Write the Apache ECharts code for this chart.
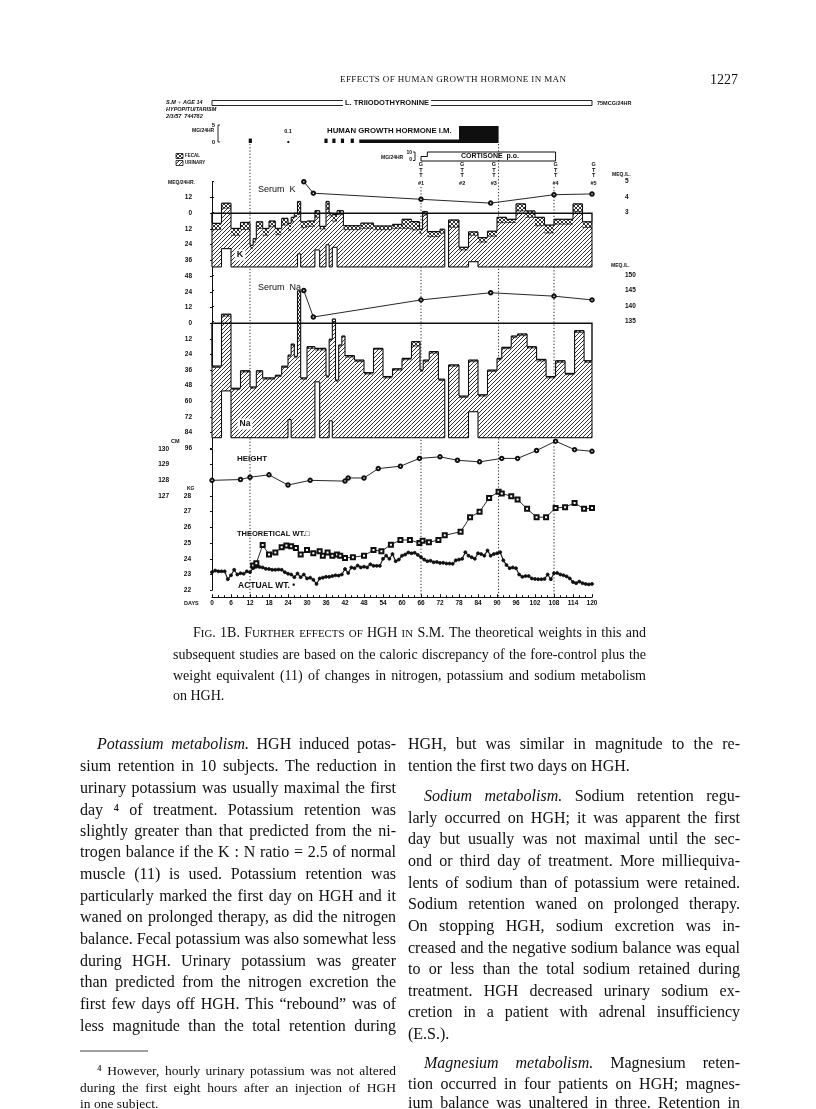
<!DOCTYPE html>
<html lang="en">
<head>
<meta charset="UTF-8">
<script src="https://cdn.jsdelivr.net/npm/echarts@6.0.0/dist/echarts.min.js"></script>
<title>Effects of human growth hormone in man - Fig. 1B</title>
<style>
  html, body { margin: 0; padding: 0; background: #fff; }
  #main { width: 816px; height: 1109px; }
</style>
</head>
<body>
<div id="main"></div>
<script type="text/javascript">
// ---- balance periods, potassium (MEQ/24HR): intake line, top of urinary, top of fecal
var kFrom   = [0,3,6,9,12,13,14,16,18,20,22,24,25,26,27,28,30,32.5,34,36,37,38,39.5,41.5,47,51,57,60,63,65.5,66.5,68,72,74.7,78,81,84,87,90,93,96,99,102,105,108,111,114,117];
var kTo     = [3,6,9,12,13,14,16,18,20,22,24,25,26,27,28,30,32.5,34,36,37,38,39.5,41.5,47,51,57,60,63,65.5,66.5,68,72,73.5,78,81,84,87,90,93,96,99,102,105,108,111,114,117,120];
var kIntake = [-41,-27,-41,-41,-41,-41,-41,-41,-41,-41,-41,-41,-41,-41,-31,-41,-41,-28,-41,-24,-41,-26,-41,-41,-41,-41,-41,-41,-41,-41,-41,-41,-41,-41,-41,-37,-41,-41,-41,-41,-41,-41,-41,-41,-41,-41,-41,-41];
var kUrine  = [-12.4,3.9,-16.8,-12.4,-26.6,-22,-11.6,-16.8,-10.3,-16.3,-9,-12.9,-6.5,-2.6,-1,-11,-10,-3,-12,3,-2,-6,-1,-12.5,-11.5,-12.5,-11.5,-11.5,-12.7,-15.3,-1.3,-17.8,-15.3,-10.7,-28,-16.8,-22,-17.5,-7.2,-7,1.8,-3.1,-9.5,-15,-8.3,-8.3,1.3,-10.8];
var kFecal  = [-7.7,7.7,-11.6,-7,-24.5,-19.4,-6.5,-11.6,-5.9,-11.6,-3.9,-7.7,-3.1,0,9,-6.5,-5.9,2,-10,9,0,-1,2,-9.5,-7.5,-9.7,-8.5,-4.6,-6.4,-12.2,1.3,-14,-12.2,-5.1,-26,-14.2,-18.6,-13.7,-3.1,-4.6,7.2,1.8,-3.1,-9,-4.6,-4.6,7.2,-6.5];

// ---- balance periods, sodium
var naFrom   = [0,3,6,9,12,14,16,20,22,24,25,26,27,28,30,32.5,34,36,37,38,39,40,41,42,45,48,51,54,57,60,63,65.7,66.7,68.6,71.5,74.7,78,81,84,87,90,91.5,94.5,96.5,99.5,102.5,105.5,108.5,111.5,114.5,117.5];
var naTo     = [3,6,9,12,14,16,20,22,24,25,26,27,28,30,32.5,34,36,37,38,39,40,41,42,45,48,51,54,57,60,63,65.7,66.7,68.6,71.5,73.5,78,81,84,87,90,91.5,94.5,96.5,99.5,102.5,105.5,108.5,111.5,114.5,117.5,120];
var naIntake = [-88,-52,-88,-88,-88,-88,-88,-88,-88,-74,-88,-88,-88,-88,-88,-45,-88,-88,-75,-88,-88,-88,-88,-88,-88,-88,-88,-88,-88,-88,-88,-88,-88,-88,-88,-88,-88,-68,-88,-88,-88,-88,-88,-88,-88,-88,-88,-88,-88,-88,-88];
var naUrine  = [-34,5.5,-51,-37.5,-50,-37.5,-43,-41,-34,-25.5,-17,-26.5,-12,-43,-19.3,-20.5,-20.5,-41.5,-13,1,-44.5,-17.5,-10.5,-26,-29.5,-39,-20,-42,-36,-28,-17.5,-37,-29.5,-23,-44,-33,-57,-29.5,-56,-37,-28,-19.5,-11,-9.5,-19,-29,-42,-30,-39.5,-7,-30];
var naFecal  = [-32.9,7,-50,-36.5,-49,-36.5,-42,-40,-33,-24.5,-16,-25.5,25,-42,-18,-19.3,-19.3,-40.6,-12.3,3.3,-43.7,-16.7,-9.8,-24.9,-28.3,-38,-19.3,-41,-35,-27,-14.1,-36,-28.3,-21.8,-43,-32,-56,-28.3,-55,-36,-27,-18.5,-9.8,-8.2,-18,-27.8,-41,-28.8,-38.6,-5.7,-28.8];

// ---- serum values (MEQ/L)
var serumDays = [29, 32, 66, 88, 108, 120];
var serumK    = [5.0, 4.25, 3.85, 3.6, 4.15, 4.2];
var serumNa   = [145, 136.5, 142, 144.3, 143.2, 142];

// ---- height (CM)
var heightDays = [0,9,12,18,24,31,42,43,48,52.5,59.5,65.5,72,77.5,84.5,91.5,96.5,102.5,108.5,114.5,120];
var heightCm   = [128.0,128.05,128.2,128.35,127.7,128.0,127.95,128.15,128.15,128.75,128.9,129.4,129.5,129.28,129.18,129.4,129.4,129.9,130.5,129.96,129.85];

// ---- theoretical weight (KG)
var theoDays = [13,14,16,18,20,22,23.5,25,26.5,28,30,32,34,35,36.5,38,39.5,40.5,42,44.5,48,51,53.5,56.5,59.5,62.5,65.5,66.5,68.5,71.5,73.5,78.5,81.5,84.5,87.5,90.5,91.5,94.5,96.5,99.5,102.5,105.5,108.5,111.5,114.5,117.5,120];
var theoKg   = [23.57,23.72,24.88,24.27,24.4,24.73,24.84,24.8,24.69,24.27,24.56,24.35,24.48,24.2,24.4,24.2,24.27,24.2,24.05,24.1,24.2,24.56,24.48,24.9,25.2,25.2,25.0,25.15,25.05,25.2,25.5,25.72,26.65,26.99,27.88,28.27,28.16,27.99,27.78,27.18,26.65,26.65,27.24,27.29,27.56,27.18,27.24];

// ---- actual weight (KG), one value a day from day 0 to 120
var actualKg = [23.15,23.25,23.2,23.2,23.2,22.7,22.95,23.3,23.0,23.08,
  23.05,23.2,23.15,23.4,23.5,23.48,23.45,23.36,23.35,23.3,
  23.3,23.32,23.3,23.15,23.05,23.0,22.83,23.06,22.83,23.0,
  22.75,22.8,22.66,22.4,22.75,22.8,22.85,22.85,22.9,22.95,
  22.93,23.0,23.35,23.1,23.45,23.4,23.57,23.45,23.5,23.45,
  23.65,23.55,23.55,23.55,24.0,24.2,24.0,24.3,23.85,23.95,
  24.2,24.27,24.4,24.35,24.38,24.25,24.1,23.95,23.85,23.88,
  23.78,23.8,23.74,23.75,23.7,23.7,23.68,23.9,23.95,24.0,
  24.42,24.2,24.1,24.0,24.35,24.3,24.2,24.53,24.2,24.3,
  24.35,24.42,23.9,23.6,23.4,23.45,23.4,23.0,22.85,22.9,
  22.9,22.75,22.72,22.7,22.7,22.72,23.0,22.7,23.08,23.1,
  23.0,22.95,22.88,22.75,22.52,22.45,22.55,22.45,22.4,22.37,
  22.4];

// ---- treatments
var hghFrom = [11.6, 23.8, 35.5, 38, 40.7, 43.8, 46.5, 78];
var hghTo   = [12.6, 24.4, 36.5, 39, 41.7, 44.8, 78, 90.5];
var hghDose = [1.3, 0.6, 1.3, 1.3, 1.3, 1.3, 1.0, 5];      // MG/24HR
var cortDays = [66, 68, 108.5];
var cortDose = [5, 10];                                    // MG/24HR
var gttDays  = [66, 79, 89, 108.5, 120.5];
var gttNames = ['#1', '#2', '#3', '#4', '#5'];
var markDays = [12, 66, 90.5, 108];                        // dotted guide lines
var markTop  = [44, 87, 44, 87];

var dayTicks = [0, 6, 12, 18, 24, 30, 36, 42, 48, 54, 60, 66, 72, 78, 84, 90, 96, 102, 108, 114, 120];

// ---- page text
var titleText = 'EFFECTS OF HUMAN GROWTH HORMONE IN MAN';
var pageNo = '1227';
var caption = [
  ['^Fig.^ 1B. ^Further effects of^ HGH ^in^ S.M. The theoretical weights in this and', 193, 633, true],
  ['subsequent studies are based on the caloric discrepancy of the fore-control plus the', 173, 655, true],
  ['weight equivalent (11) of changes in nitrogen, potassium and sodium metabolism', 173, 676, true],
  ['on HGH.', 173, 696, false]
];
var leftCol = [
  ['*Potassium metabolism.* HGH induced potas-', 97, 745, true],
  ['sium retention in 10 subjects. The reduction in', 80, 767, true],
  ['urinary potassium was usually maximal the first', 80, 789, true],
  ['day \u2074 of treatment. Potassium retention was', 80, 811, true],
  ['slightly greater than that predicted from the ni-', 80, 832, true],
  ['trogen balance if the K : N ratio = 2.5 of normal', 80, 853, true],
  ['muscle (11) is used. Potassium retention was', 80, 875, true],
  ['particularly marked the first day on HGH and it', 80, 897, true],
  ['waned on prolonged therapy, as did the nitrogen', 80, 918, true],
  ['balance. Fecal potassium was also somewhat less', 80, 940, true],
  ['during HGH. Urinary potassium was greater', 80, 962, true],
  ['than predicted from the nitrogen excretion the', 80, 983, true],
  ['first few days off HGH. This \u201crebound\u201d was of', 80, 1005, true],
  ['less magnitude than the total retention during', 80, 1027, true]
];
var footnote = [
  ['\u2074 However, hourly urinary potassium was not altered', 97, 1071, true],
  ['during the first eight hours after an injection of HGH', 80, 1088, true],
  ['in one subject.', 80, 1104, false]
];
var rightCol = [
  ['HGH, but was similar in magnitude to the re-', 408, 745, true],
  ['tention the first two days on HGH.', 408, 767, false],
  ['*Sodium metabolism.* Sodium retention regu-', 424, 797, true],
  ['larly occurred on HGH; it was apparent the first', 408, 819, true],
  ['day but usually was not maximal until the sec-', 408, 840, true],
  ['ond or third day of treatment. More milliequiva-', 408, 862, true],
  ['lents of sodium than of potassium were retained.', 408, 884, true],
  ['Sodium retention waned on prolonged therapy.', 408, 905, true],
  ['On stopping HGH, sodium excretion was in-', 408, 927, true],
  ['creased and the negative sodium balance was equal', 408, 949, true],
  ['to or less than the total sodium retained during', 408, 970, true],
  ['treatment. HGH decreased urinary sodium ex-', 408, 992, true],
  ['cretion in a patient with adrenal insufficiency', 408, 1013, true],
  ['(E.S.).', 408, 1035, false],
  ['*Magnesium metabolism.* Magnesium reten-', 424, 1064, true],
  ['tion occurred in four patients on HGH; magnes-', 408, 1085, true],
  ['ium balance was unaltered in three. Retention in', 408, 1104, true]
];

var SERIF = '"Liberation Serif", "Times New Roman", serif';
var SANS = '"Liberation Sans", Arial, sans-serif';
var INK = '#0f0f0f';

var chart = echarts.init(document.getElementById('main'), null, { renderer: 'canvas' });

// hatch fills for the balance bars
function hatch(size, dirs, lw) {
  var c = document.createElement('canvas');
  c.width = c.height = size;
  var g = c.getContext('2d');
  g.fillStyle = '#fff';
  g.fillRect(0, 0, size, size);
  g.strokeStyle = '#1a1a1a';
  g.lineWidth = lw;
  function seg(a, b, d, e) { g.beginPath(); g.moveTo(a, b); g.lineTo(d, e); g.stroke(); }
  if (dirs.indexOf('/') >= 0) { seg(0, size, size, 0); seg(-1, 1, 1, -1); seg(size - 1, size + 1, size + 1, size - 1); }
  if (dirs.indexOf('\\') >= 0) { seg(0, 0, size, size); seg(size - 1, -1, size + 1, 1); seg(-1, size - 1, 1, size + 1); }
  return { image: c, repeat: 'repeat' };
}
var urinaryFill = hatch(4, '/', 0.9);
var fecalFill = hatch(4, '/\\', 0.9);

function rowsOf(from, to, intake, urine, fecal) {
  return from.map(function (f, i) { return [f, to[i], intake[i], urine[i], fecal[i]]; });
}
var kRows = rowsOf(kFrom, kTo, kIntake, kUrine, kFecal);
var naRows = rowsOf(naFrom, naTo, naIntake, naUrine, naFecal);

function seg(x1, y1, x2, y2, w) {
  return { type: 'line', shape: { x1: x1, y1: y1, x2: x2, y2: y2 }, style: { stroke: INK, lineWidth: w } };
}

// intake drawn downward from zero, output stacked upward from intake
function balanceItem(rows) {
  return function (params, api) {
    var i = params.dataIndex, r = rows[i];
    var a = api.coord([r[0], r[2]]);
    var b = api.coord([r[1], r[3]]);
    var c = api.coord([r[1], r[4]]);
    var x0 = a[0], x1 = b[0], yIn = a[1], yU = b[1], yF = c[1];
    var kids = [
      { type: 'rect', shape: { x: x0, y: yU, width: x1 - x0, height: yIn - yU }, style: { fill: urinaryFill } },
      { type: 'rect', shape: { x: x0, y: yF, width: x1 - x0, height: Math.max(0, yU - yF) }, style: { fill: fecalFill } },
      seg(x0, yF, x1, yF, 1.3), seg(x0, yU, x1, yU, 0.7), seg(x0, yIn, x1, yIn, 1.1)
    ];
    var prev = rows[i - 1], next = rows[i + 1];
    if (prev && prev[1] === r[0]) {
      var p = api.coord([prev[1], prev[4]]), pin = api.coord([prev[1], prev[2]]);
      kids.push(seg(x0, p[1], x0, yF, 1.1));
      if (prev[2] !== r[2]) kids.push(seg(x0, pin[1], x0, yIn, 1.1));
    } else {
      kids.push(seg(x0, yF, x0, yIn, 1.1));
    }
    if (!(next && next[0] === r[1])) kids.push(seg(x1, yF, x1, yIn, 1.1));
    return { type: 'group', children: kids };
  };
}

function zeroFrame(rows) {
  return function (params, api) {
    var first = rows[0], last = rows[rows.length - 1];
    var pts = [api.coord([first[0], first[4]]), api.coord([first[0], 0]),
               api.coord([last[1], 0]), api.coord([last[1], last[4]])];
    return { type: 'polyline', shape: { points: pts }, style: { stroke: INK, lineWidth: 1.4, fill: null } };
  };
}

function hghItem(params, api) {
  var a = api.coord([api.value(0), 0]), b = api.coord([api.value(1), api.value(2)]);
  return { type: 'rect', shape: { x: a[0], y: b[1], width: b[0] - a[0], height: a[1] - b[1] }, style: { fill: INK } };
}

function cortItem(params, api) {
  var pts = [api.coord([cortDays[0], 0])];
  for (var i = 0; i < cortDose.length; i++) {
    pts.push(api.coord([cortDays[i], cortDose[i]]));
    pts.push(api.coord([cortDays[i + 1], cortDose[i]]));
  }
  pts.push(api.coord([cortDays[cortDays.length - 1], 0]));
  pts.push(pts[0]);
  return { type: 'polyline', shape: { points: pts }, style: { stroke: INK, lineWidth: 1, fill: null } };
}

function t3Item(params, api) {
  var a = api.coord([api.value(0), 0]), b = api.coord([api.value(1), 1]);
  return { type: 'rect', shape: { x: a[0], y: b[1], width: b[0] - a[0], height: a[1] - b[1] }, style: { fill: null, stroke: INK, lineWidth: 0.9 } };
}

function dottedItem(params, api) {
  var top = api.coord([api.value(0), api.value(1)]), bot = api.coord([api.value(0), 497]);
  return { type: 'line', shape: { x1: top[0], y1: top[1], x2: bot[0], y2: bot[1] },
           style: { stroke: '#222', lineWidth: 1, lineDash: [1.2, 2] } };
}

function gttItem(params, api) {
  var p = api.coord([api.value(0), 62]);
  var f = 'bold 5.5px ' + SANS;
  return { type: 'group', children: [
    { type: 'text', x: p[0], y: p[1], style: { text: 'G\nT\nT', font: f, fill: INK, lineHeight: 5.5, align: 'center', verticalAlign: 'top' } },
    { type: 'text', x: p[0], y: p[1] + 18, style: { text: gttNames[params.dataIndex], font: f, fill: INK, align: 'center', verticalAlign: 'top' } }
  ] };
}

// ---- grids: all share the day scale
var X_LEFT = 212, X_WIDTH = 380;
var gridBox = [
  [197.6, 78.5],   // 0 potassium balance
  [181.7, 30.6],   // 1 serum K
  [292.1, 156],    // 2 sodium balance
  [275, 46.7],     // 3 serum Na
  [449, 47],       // 4 height
  [496, 94.2],     // 5 weight
  [126, 17],       // 6 HGH dose
  [152, 9],        // 7 cortisone dose
  [100.5, 5],      // 8 triiodothyronine
  [100, 497]       // 9 guide overlay
];

var tinyLabel = { fontFamily: SANS, fontSize: 6.5, fontWeight: 'bold', color: INK, margin: 3 };
var axisInk = { show: true, lineStyle: { color: INK, width: 1 } };
var shortTick = { show: true, length: 2, lineStyle: { color: INK, width: 1 } };

function yAx(i, min, max, step, opts) {
  var ax = { gridIndex: i, type: 'value', min: min, max: max, interval: step,
    axisLine: axisInk, axisTick: shortTick, splitLine: { show: false },
    axisLabel: Object.assign({}, tinyLabel) };
  return Object.assign(ax, opts || {});
}
function hiddenY(i, min, max, inv) {
  return { gridIndex: i, type: 'value', min: min, max: max, inverse: !!inv, show: false, splitLine: { show: false } };
}
var absLabel = Object.assign({}, tinyLabel, { formatter: function (v) { return String(Math.abs(v)); } });

var xAxes = gridBox.map(function (g, i) {
  if (i === 5) {
    return { gridIndex: 5, type: 'value', min: 0, max: 120, interval: 6, offset: 7,
      axisLine: axisInk,
      axisTick: { show: true, inside: true, length: 3, lineStyle: { color: INK } },
      minorTick: { show: true, splitNumber: 3, length: 2, lineStyle: { color: INK } },
      axisLabel: Object.assign({}, tinyLabel, { customValues: dayTicks }),
      splitLine: { show: false }, minorSplitLine: { show: false } };
  }
  return { gridIndex: i, type: 'value', min: 0, max: 120, show: false, splitLine: { show: false } };
});

var yAxes = [
  yAx(0, -48, 12, 12, { offset: 17, axisLabel: absLabel }),
  yAx(1, 3, 5, 1, { position: 'right', offset: 30 }),
  yAx(2, -96, 24, 12, { offset: 17, axisLabel: absLabel }),
  yAx(3, 135, 150, 5, { position: 'right', offset: 30 }),
  yAx(4, 127, 130, 1, { offset: 40 }),
  yAx(5, 22, 28, 1, { offset: 18 }),
  hiddenY(6, 0, 5),
  hiddenY(7, 0, 10),
  hiddenY(8, 0, 1),
  hiddenY(9, 0, 497, true)
];

function pairs(xs, ys) { return xs.map(function (x, i) { return [x, ys[i]]; }); }
function lineSeries(gi, data, symbol, size, width) {
  return { type: 'line', xAxisIndex: gi, yAxisIndex: gi, data: data, symbol: symbol, symbolSize: size,
    clip: false, silent: true, z: 5,
    lineStyle: { color: INK, width: width }, itemStyle: { color: INK, borderColor: INK, borderWidth: 0.8 } };
}

var series = [
  { type: 'custom', xAxisIndex: 9, yAxisIndex: 9, renderItem: dottedItem, data: pairs(markDays, markTop), z: 1, silent: true },
  { type: 'custom', xAxisIndex: 0, yAxisIndex: 0, renderItem: balanceItem(kRows), data: kRows, z: 2, silent: true },
  { type: 'custom', xAxisIndex: 0, yAxisIndex: 0, renderItem: zeroFrame(kRows), data: [[0, 120]], z: 3, silent: true },
  { type: 'custom', xAxisIndex: 2, yAxisIndex: 2, renderItem: balanceItem(naRows), data: naRows, z: 2, silent: true },
  { type: 'custom', xAxisIndex: 2, yAxisIndex: 2, renderItem: zeroFrame(naRows), data: [[0, 120]], z: 3, silent: true },
  lineSeries(1, pairs(serumDays, serumK), 'emptyCircle', 3.5, 0.9),
  lineSeries(3, pairs(serumDays, serumNa), 'emptyCircle', 3.5, 0.9),
  lineSeries(4, pairs(heightDays, heightCm), 'emptyCircle', 3.5, 0.9),
  lineSeries(5, pairs(theoDays, theoKg), 'emptyRect', 4, 0.9),
  lineSeries(5, actualKg.map(function (v, d) { return [d, v]; }), 'circle', 3, 1.1),
  { type: 'custom', xAxisIndex: 6, yAxisIndex: 6, renderItem: hghItem,
    data: hghFrom.map(function (f, i) { return [f, hghTo[i], hghDose[i]]; }), z: 2, silent: true },
  { type: 'custom', xAxisIndex: 7, yAxisIndex: 7, renderItem: cortItem, data: [[cortDays[0], 0]], z: 2, silent: true },
  { type: 'custom', xAxisIndex: 8, yAxisIndex: 8, renderItem: t3Item, data: [[0, 120]], z: 2, silent: true },
  { type: 'custom', xAxisIndex: 9, yAxisIndex: 9, renderItem: gttItem,
    data: gttDays.map(function (d, i) { return [d, i]; }), z: 4, silent: true }
];

// ---- text helpers
var measure = document.createElement('canvas').getContext('2d');
function serifFont(size, italic) { return (italic ? 'italic ' : '') + size + 'px ' + SERIF; }
function widthOf(s, font) { measure.font = font; return measure.measureText(s).width; }

function wordRuns(word, size, state) {
  var runs = [];
  for (var i = 0; i < word.length; i++) {
    var ch = word.charAt(i);
    if (ch === '*') { state.it = !state.it; continue; }
    if (ch === '^') { state.sc = !state.sc; continue; }
    var sz = size, c = ch;
    if (state.sc && ch !== ch.toUpperCase()) { sz = Math.round(size * 7.8) / 10; c = ch.toUpperCase(); }
    var last = runs[runs.length - 1];
    if (last && last.size === sz && last.it === state.it) last.s += c;
    else runs.push({ s: c, size: sz, it: state.it });
  }
  runs.forEach(function (r) { r.font = serifFont(r.size, r.it); r.w = widthOf(r.s, r.font); });
  return runs;
}

// justified line: word gaps stretched to fill x0..x1, font shrunk a little if it would overflow
function setLine(out, text, x0, x1, y, size, justify) {
  var sz = size, words, total, space;
  for (;;) {
    var state = { it: false, sc: false };
    words = text.split(' ').filter(Boolean).map(function (w) {
      var runs = wordRuns(w, sz, state);
      return { runs: runs, w: runs.reduce(function (a, r) { return a + r.w; }, 0) };
    });
    total = words.reduce(function (a, w) { return a + w.w; }, 0);
    space = widthOf(' ', serifFont(sz));
    if (!justify || total + 0.6 * space * (words.length - 1) <= x1 - x0 || sz < size * 0.86) break;
    sz -= 0.25;
  }
  var gap = space;
  if (justify && words.length > 1) gap = (x1 - x0 - total) / (words.length - 1);
  var x = x0;
  words.forEach(function (w) {
    w.runs.forEach(function (r) {
      out.push({ type: 'text', x: x, y: y + (sz - r.size) * 0.34, silent: true, z: 100,
        style: { text: r.s, font: r.font, fill: INK, align: 'left', verticalAlign: 'middle' } });
      x += r.w;
    });
    x += gap;
  });
}

// letter-spaced running head
function spaced(out, text, x0, x1, y, font) {
  var ws = text.split('').map(function (ch) { return widthOf(ch, font); });
  var sum = ws.reduce(function (a, b) { return a + b; }, 0);
  var extra = (x1 - x0 - sum) / (text.length - 1);
  var x = x0;
  text.split('').forEach(function (ch, i) {
    out.push({ type: 'text', x: x, y: y, silent: true, z: 100, style: { text: ch, font: font, fill: INK, align: 'left', verticalAlign: 'middle' } });
    x += ws[i] + extra;
  });
}

function figText(t, x, y, size, align, flags) {
  var font = (flags.indexOf('i') >= 0 ? 'italic ' : '') + (flags.indexOf('b') >= 0 ? 'bold ' : '') + size + 'px ' + SANS;
  var el = { type: 'text', x: x, y: y, silent: true, z: 100,
    style: { text: t, font: font, fill: INK, align: align, verticalAlign: 'middle' } };
  if (flags.indexOf('w') >= 0) { el.style.backgroundColor = '#fff'; el.style.padding = [1, 2]; }
  return el;
}

var figLabels = [
  ['S.M \u2640 AGE 14', 166, 102, 5.5, 'left', 'bi'],
  ['HYPOPITUITARISM', 166, 109, 5.5, 'left', 'bi'],
  ['2/3/57  744782', 166, 116, 5.5, 'left', 'bi'],
  ['L. TRIIODOTHYRONINE', 387, 103, 7.5, 'center', 'bw'],
  ['75MCG/24HR', 597, 103, 5.5, 'left', 'b'],
  ['MG/24HR', 192, 131, 5, 'left', 'b'],
  ['5', 215, 125, 6, 'right', 'b'],
  ['0', 215, 142, 6, 'right', 'b'],
  ['HUMAN GROWTH HORMONE I.M.', 327, 131, 7.8, 'left', 'b'],
  ['0.1', 288, 131, 5.5, 'center', 'b'],
  ['FECAL', 185, 156, 4.5, 'left', 'b'],
  ['URINARY', 185, 163, 4.5, 'left', 'b'],
  ['MG/24HR', 381, 158, 5, 'left', 'b'],
  ['10', 412, 153, 5, 'right', 'b'],
  ['0', 412, 160, 5, 'right', 'b'],
  ['CORTISONE  p.o.', 490, 156.5, 7, 'center', 'b'],
  ['MEQ/24HR.', 168, 183, 5, 'left', 'b'],
  ['Serum  K', 258, 190, 9, 'left', ''],
  ['MEQ./L.', 612, 175, 5, 'left', 'b'],
  ['K', 240, 255, 9, 'center', 'bw'],
  ['Serum  Na', 258, 288, 9, 'left', ''],
  ['MEQ./L.', 611, 266, 5, 'left', 'b'],
  ['Na', 245, 424, 8.5, 'center', 'bw'],
  ['CM', 171, 441, 5.5, 'left', 'b'],
  ['KG', 187, 489, 5, 'left', 'b'],
  ['HEIGHT', 237, 459, 8, 'left', 'b'],
  ['THEORETICAL WT.\u25A1', 237, 534, 7.5, 'left', 'b'],
  ['ACTUAL WT. \u2022', 238, 586, 8.5, 'left', 'b'],
  ['DAYS', 184, 603, 5.5, 'left', 'b']
];

var elements = figLabels.map(function (l) { return figText(l[0], l[1], l[2], l[3], l[4], l[5]); });
elements.push({ type: 'rect', z: 100, silent: true, shape: { x: 176, y: 153.5, width: 7, height: 5 }, style: { fill: fecalFill, stroke: INK, lineWidth: 0.8 } });
elements.push({ type: 'rect', z: 100, silent: true, shape: { x: 176, y: 160.5, width: 7, height: 5 }, style: { fill: urinaryFill, stroke: INK, lineWidth: 0.8 } });
elements.push({ type: 'polyline', z: 100, silent: true, shape: { points: [[220, 125], [218, 125], [218, 142], [220, 142]] }, style: { stroke: INK, lineWidth: 0.9, fill: null } });
elements.push({ type: 'polyline', z: 100, silent: true, shape: { points: [[413, 152], [415, 152], [415, 160.5], [413, 160.5]] }, style: { stroke: INK, lineWidth: 0.9, fill: null } });

spaced(elements, titleText, 340, 566, 80, '9px ' + SERIF);
elements.push({ type: 'text', x: 738, y: 80, silent: true, z: 100, style: { text: pageNo, font: '14px ' + SERIF, fill: INK, align: 'right', verticalAlign: 'middle' } });
caption.forEach(function (l) { setLine(elements, l[0], l[1], 646, l[2], 14, l[3]); });
leftCol.forEach(function (l) { setLine(elements, l[0], l[1], 396, l[2], 16, l[3]); });
rightCol.forEach(function (l) { setLine(elements, l[0], l[1], 740, l[2], 16, l[3]); });
footnote.forEach(function (l) { setLine(elements, l[0], l[1], 396, l[2], 13.5, l[3]); });
elements.push({ type: 'line', z: 100, silent: true, shape: { x1: 80, y1: 1051, x2: 148, y2: 1051 }, style: { stroke: INK, lineWidth: 0.8 } });

var option = {
  backgroundColor: '#fff',
  animation: false,
  grid: gridBox.map(function (g) { return { left: X_LEFT, width: X_WIDTH, top: g[0], height: g[1] }; }),
  xAxis: xAxes,
  yAxis: yAxes,
  series: series,
  graphic: { elements: elements }
};

chart.setOption(option);
</script>
</body>
</html>
